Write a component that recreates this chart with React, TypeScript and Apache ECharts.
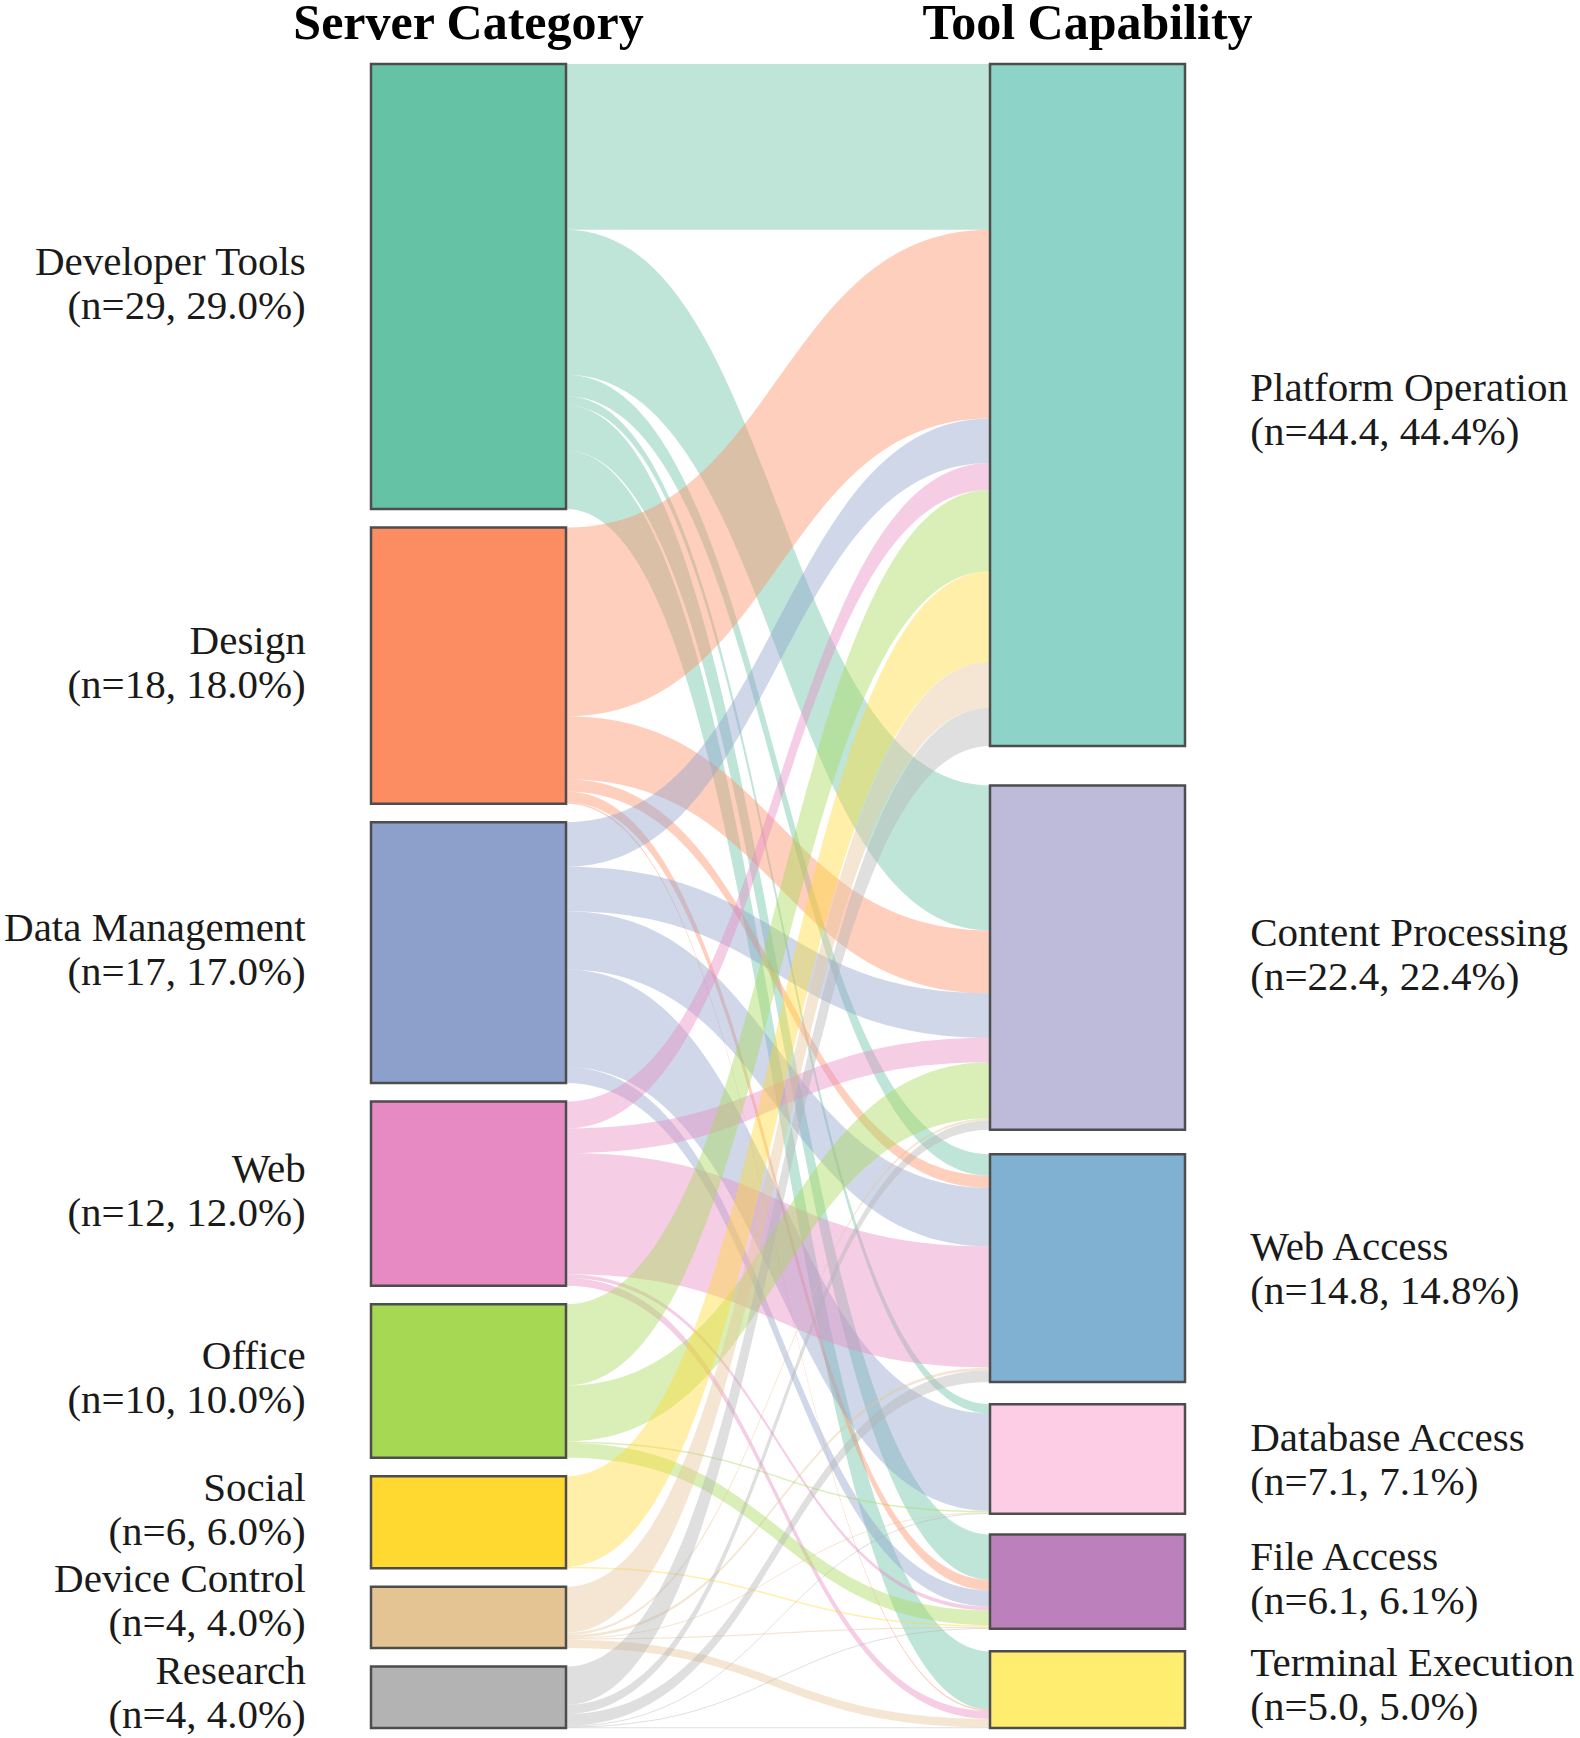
import React, { useEffect, useRef } from "react";
import * as echarts from "echarts";

// Left column: server categories
const sourceNames = [
  "Developer Tools",
  "Design",
  "Data Management",
  "Web",
  "Office",
  "Social",
  "Device Control",
  "Research",
];
const sourceColors = [
  "#66c2a5",
  "#fc8d62",
  "#8da0cb",
  "#e78ac3",
  "#a6d854",
  "#ffd92f",
  "#e5c494",
  "#b3b3b3",
];

// Right column: tool capabilities
const targetNames = [
  "Platform Operation",
  "Content Processing",
  "Web Access",
  "Database Access",
  "File Access",
  "Terminal Execution",
];
const targetColors = ["#8dd3c7", "#bebada", "#80b1d3", "#fccde5", "#bc80bd", "#ffed6f"];

// Flow from each category to each capability, in targetNames order
const flowDeveloperTools = [10.8, 9.45, 1.4, 0.6, 2.95, 3.8];
const flowDesign = [12.3, 4.1, 0.8, 0, 0.7, 0.1];
const flowDataManagement = [2.9, 2.9, 3.8, 6.35, 1.05, 0];
const flowWeb = [1.75, 1.6, 7.9, 0, 0.25, 0.5];
const flowOffice = [5.3, 3.64, 0, 0.1, 0.96, 0];
const flowSocial = [5.9, 0, 0, 0, 0.1, 0];
const flowDeviceControl = [3.0, 0.15, 0.18, 0.04, 0.08, 0.55];
const flowResearch = [2.49, 0.6, 0.76, 0.05, 0.05, 0.05];

const flows = [
  flowDeveloperTools,
  flowDesign,
  flowDataManagement,
  flowWeb,
  flowOffice,
  flowSocial,
  flowDeviceControl,
  flowResearch,
];

const columnTitles = ["Server Category", "Tool Capability"];

const SERIF = '"Liberation Serif", "Times New Roman", Times, serif';

// Series box
const BOX_LEFT = 371;
const BOX_TOP = 64;
const BOX_RIGHT = 395;
const BOX_BOTTOM = 10;
const CHART_W = 1580;
const CHART_H = 1738;
const NODE_GAP = 18.5;
const NODE_W = 195;

// Vertical centres (fraction of the series box) for the inner capability nodes;
// the first node sits on the top edge and the last one on the bottom edge.
const innerRightCentres = [0.537, 0.7236, 0.8383, 0.912];

// Small vertical nudges for crowded labels
const leftLabelOffsets: Record<string, number> = {
  Social: -13,
  "Device Control": -17,
  Research: -5,
};
const rightLabelOffsets: Record<string, number> = {
  "Platform Operation": 4,
  "Content Processing": -4,
  "File Access": -4,
  "Terminal Execution": -6,
};

export default function App() {
  const ref = useRef<HTMLDivElement>(null);

  useEffect(() => {
    document.body.style.margin = "0";
    document.body.style.overflow = "hidden";
    if (!ref.current) return;
    const chart = echarts.init(ref.current, undefined, { renderer: "svg" });

    const sourceTotals = flows.map((row) => row.reduce((a, b) => a + b, 0));
    const targetTotals = targetNames.map((_, j) =>
      flows.reduce((a, row) => a + row[j], 0)
    );
    const grand = sourceTotals.reduce((a, b) => a + b, 0);

    const labelText: Record<string, string> = {};
    sourceNames.forEach((n, i) => {
      const v = sourceTotals[i];
      labelText[n] = `${n}\n(n=${Math.round(v)}, ${((v / grand) * 100).toFixed(1)}%)`;
    });
    targetNames.forEach((n, j) => {
      const v = targetTotals[j];
      labelText[n] = `${n}\n(n=${v.toFixed(1)}, ${((v / grand) * 100).toFixed(1)}%)`;
    });

    // Same scale ECharts uses for node heights (set by the fuller left column)
    const boxH = CHART_H - BOX_TOP - BOX_BOTTOM;
    const ky = (boxH - (sourceNames.length - 1) * NODE_GAP) / grand;
    const rightHeights = targetTotals.map((v) => v * ky);
    const last = targetNames.length - 1;
    const rightTops = rightHeights.map((h, j) => {
      if (j === 0) return 0;
      if (j === last) return boxH - h;
      return innerRightCentres[j - 1] * boxH - h / 2;
    });

    const nodes = [
      ...sourceNames.map((name, i) => ({
        name,
        itemStyle: { color: sourceColors[i] },
        label: { position: "left", offset: [0, leftLabelOffsets[name] ?? -4] },
      })),
      ...targetNames.map((name, j) => ({
        name,
        localY: rightTops[j] / boxH,
        itemStyle: { color: targetColors[j] },
        label: { position: "right", offset: [0, rightLabelOffsets[name] ?? 0] },
      })),
    ];

    const links: { source: string; target: string; value: number }[] = [];
    flows.forEach((row, i) => {
      row.forEach((v, j) => {
        if (v > 0) links.push({ source: sourceNames[i], target: targetNames[j], value: v });
      });
    });

    const leftCenter = BOX_LEFT + NODE_W / 2;
    const rightCenter = CHART_W - BOX_RIGHT - NODE_W / 2;

    chart.setOption({
      animation: false,
      backgroundColor: "#ffffff",
      graphic: [
        {
          type: "text",
          x: leftCenter,
          y: 22,
          style: {
            text: columnTitles[0],
            font: `bold 50px ${SERIF}`,
            fill: "#000",
            align: "center",
            verticalAlign: "middle",
          },
        },
        {
          type: "text",
          x: rightCenter,
          y: 22,
          style: {
            text: columnTitles[1],
            font: `bold 50px ${SERIF}`,
            fill: "#000",
            align: "center",
            verticalAlign: "middle",
          },
        },
      ],
      series: [
        {
          type: "sankey",
          left: BOX_LEFT,
          top: BOX_TOP,
          right: BOX_RIGHT,
          bottom: BOX_BOTTOM,
          nodeWidth: NODE_W,
          nodeGap: NODE_GAP,
          layoutIterations: 0,
          nodeAlign: "justify",
          draggable: false,
          emphasis: { disabled: true },
          data: nodes,
          links,
          itemStyle: { borderColor: "#4d4d4d", borderWidth: 2.5 },
          lineStyle: { color: "source", opacity: 0.42, curveness: 0.5 },
          label: {
            show: true,
            distance: 64,
            fontFamily: SERIF,
            fontSize: 41,
            lineHeight: 44,
            color: "#1a1a1a",
            formatter: (p: any) => labelText[p.name] ?? p.name,
          },
        },
      ],
    });

    return () => chart.dispose();
  }, []);

  return <div ref={ref} style={{ width: CHART_W, height: CHART_H }} />;
}
